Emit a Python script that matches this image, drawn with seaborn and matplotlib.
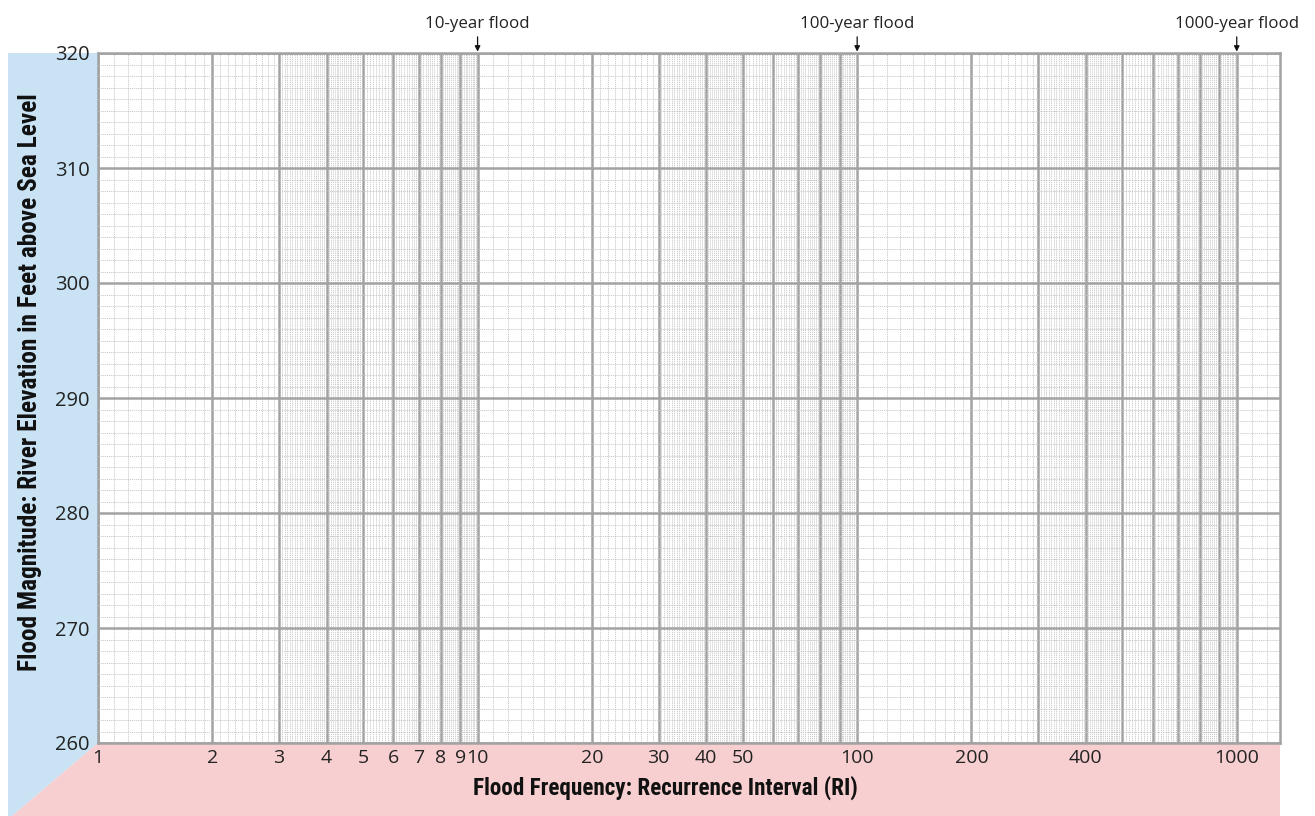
import numpy as np
import matplotlib
matplotlib.use("Agg")
import matplotlib.pyplot as plt
from matplotlib.patches import Polygon
from matplotlib.ticker import FixedLocator, FuncFormatter
import seaborn as sns

# axis ranges of the blank flood-frequency graph paper
ri_min, ri_max = 1, 1300
elev_min, elev_max = 260, 320

# labelled recurrence intervals and elevations
ri_labels = [1, 2, 3, 4, 5, 6, 7, 8, 9, 10, 20, 30, 40, 50, 100, 200, 400, 1000]
elev_ticks = [260, 270, 280, 290, 300, 310, 320]

# reference floods marked above the paper
flood_ri = [10, 100, 1000]
flood_names = ["10-year flood", "100-year flood", "1000-year flood"]

sns.set_theme(style="white")
plt.rcParams["font.family"] = ["Open Sans", "DejaVu Sans"]

W, H = 1315, 816
fig = plt.figure(figsize=(W / 100, H / 100), dpi=100)

# coloured backing behind the axis titles (pixel corners -> figure fraction)
def fig_xy(pts):
    return [(x / W, 1 - y / H) for x, y in pts]

fig.patches.append(Polygon(fig_xy([(8, 53), (98, 53), (98, 743), (12, 816), (8, 816)]),
                           closed=True, transform=fig.transFigure,
                           facecolor="#c9e2f4", edgecolor="none", zorder=-5))
fig.patches.append(Polygon(fig_xy([(98, 743), (1280, 743), (1280, 816), (12, 816)]),
                           closed=True, transform=fig.transFigure,
                           facecolor="#f8cfd0", edgecolor="none", zorder=-5))

ax = fig.add_axes([98 / W, 1 - 743 / H, (1280 - 98) / W, (743 - 53) / H])
ax.set_facecolor("white")
ax.set_xscale("log")
ax.set_xlim(ri_min, ri_max)
ax.set_ylim(elev_min, elev_max)

# heavy lines at every whole multiple of each decade
major_x = [k * 10 ** d for d in range(3) for k in range(1, 10)] + [1000]

# finer rulings, denser in the 3-5 part of each cycle
def rulings(start, stop, step):
    return list(np.round(np.arange(start, stop + step / 2, step), 6))

minor_x = []
for dec in [1, 10, 100]:
    minor_x += rulings(1 * dec, 3 * dec, 0.1 * dec)
    minor_x += rulings(3 * dec, 5 * dec, 0.05 * dec)
    minor_x += rulings(5 * dec, 10 * dec, 0.1 * dec)
minor_x += [1100, 1200]

ax.xaxis.set_major_locator(FixedLocator(major_x))
ax.xaxis.set_minor_locator(FixedLocator(minor_x))
ax.xaxis.set_major_formatter(
    FuncFormatter(lambda v, p: f"{round(v)}" if round(v) in ri_labels else ""))
ax.xaxis.set_minor_formatter(FuncFormatter(lambda v, p: ""))

ax.yaxis.set_major_locator(FixedLocator(elev_ticks))
ax.yaxis.set_minor_locator(FixedLocator(list(range(elev_min, elev_max + 1))))

ax.grid(which="major", color="#a2a2a2", lw=1.8)
ax.grid(which="minor", color="#c6c6c6", lw=0.6, ls=(0, (1.5, 1)))
ax.set_axisbelow(False)

for s in ax.spines.values():
    s.set_color("#a2a2a2")
    s.set_linewidth(1.8)

ax.tick_params(which="both", length=0)
ax.tick_params(axis="x", pad=4, labelsize=14, labelcolor="#222222")
ax.tick_params(axis="y", pad=6, labelsize=14.5, labelcolor="#222222")

# arrows pointing to the reference floods
for ri, name in zip(flood_ri, flood_names):
    ax.annotate(name, xy=(ri, elev_max), xytext=(0, 15), textcoords="offset points",
                ha="center", va="bottom", fontsize=12.2, color="#222222",
                annotation_clip=False,
                arrowprops=dict(arrowstyle="-|>", color="#111111", lw=0.9,
                                mutation_scale=8, shrinkA=1, shrinkB=1))

label_font = ["Roboto Condensed", "Roboto", "DejaVu Sans"]
fig.text(665 / W, 1 - 788 / H, "Flood Frequency: Recurrence Interval (RI)",
         ha="center", va="center", fontsize=16.7, fontweight="bold",
         family=label_font, color="#111111")
fig.text(30 / W, 1 - 382 / H, "Flood Magnitude: River Elevation in Feet above Sea Level",
         ha="center", va="center", rotation=90, fontsize=18.2, fontweight="bold",
         family=label_font, color="#111111")

fig.savefig("out.png", dpi=100, facecolor="white")
